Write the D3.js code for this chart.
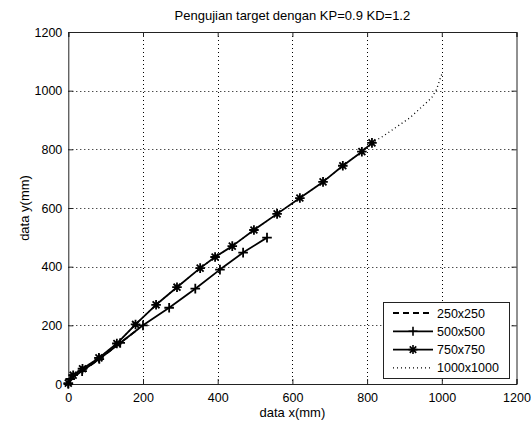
<!DOCTYPE html>
<html><head><meta charset="utf-8">
<script src="https://cdn.jsdelivr.net/npm/d3@7"></script>
<style>
body{margin:0;background:#fff;}
text{font-family:"Liberation Sans",Arial,sans-serif;font-size:13px;fill:#000;}
</style></head>
<body><svg id="c" width="531" height="421"></svg>
<script>
const title = "Pengujian target dengan KP=0.9 KD=1.2";
const xLabel = "data x(mm)";
const yLabel = "data y(mm)";
const xTicks = [0,200,400,600,800,1000,1200];
const yTicks = [0,200,400,600,800,1000,1200];
const seriesNames = ["250x250","500x500","750x750","1000x1000"];

const x250 = [0, 5, 37, 83, 139, 188];
const y250 = [0, 17, 44, 85, 140, 188];

const x500 = [0, 5, 37, 83, 139, 200, 270, 340, 406, 468, 532];
const y500 = [0, 17, 44, 85, 140, 200, 260, 325, 390, 448, 499];

const x750 = [0, 13, 38, 82, 130, 180, 235, 291, 353, 393, 439, 497, 559, 620, 682, 735, 786, 813];
const y750 = [3, 30, 52, 89, 138, 203, 270, 330, 395, 433, 470, 525, 580, 634, 689, 744, 792, 822];

const x1000 = [0, 13, 38, 82, 130, 180, 235, 291, 353, 393, 439, 497, 559, 620, 682, 735, 786, 813, 843, 915, 973, 986, 995, 1000];
const y1000 = [3, 30, 52, 89, 138, 203, 270, 330, 395, 433, 470, 525, 580, 634, 689, 744, 792, 822, 845, 908, 976, 1004, 1039, 1056];

const W = 531, H = 421;
const m = {l:68.3, r:14.5, t:32, b:37};
const svg = d3.select("#c");
const x = d3.scaleLinear().domain([0,1200]).range([m.l, W-m.r]);
const y = d3.scaleLinear().domain([0,1200]).range([H-m.b, m.t]);

// grid
const grid = svg.append("g").attr("stroke","#000").attr("stroke-width",1).attr("stroke-dasharray","1,3");
xTicks.forEach(t=>{ if(t>0 && t<1200) grid.append("line").attr("x1",Math.round(x(t))+0.5).attr("x2",Math.round(x(t))+0.5).attr("y1",y(1200)).attr("y2",y(0)); });
yTicks.forEach(t=>{ if(t>0 && t<1200) grid.append("line").attr("y1",Math.round(y(t))+0.5).attr("y2",Math.round(y(t))+0.5).attr("x1",x(0)).attr("x2",x(1200)); });

// axes via d3
const axB = svg.append("g").attr("transform",`translate(0,${y(0)})`)
  .call(d3.axisBottom(x).tickValues(xTicks).tickSize(-5).tickPadding(9).tickFormat(d3.format("d")));
const axT = svg.append("g").attr("transform",`translate(0,${y(1200)})`)
  .call(d3.axisTop(x).tickValues(xTicks).tickSize(-5).tickFormat(""));
const axL = svg.append("g").attr("transform",`translate(${x(0)},0)`)
  .call(d3.axisLeft(y).tickValues(yTicks).tickSize(-5).tickPadding(6).tickFormat(d3.format("d")));
const axR = svg.append("g").attr("transform",`translate(${x(1200)},0)`)
  .call(d3.axisRight(y).tickValues(yTicks).tickSize(-5).tickFormat(""));
[axB,axT,axL,axR].forEach(a=>{
  a.selectAll(".domain").attr("stroke","#222");
  a.selectAll(".tick line").attr("stroke","#222");
  a.selectAll("text").style("font-family","'Liberation Sans',Arial,sans-serif").style("font-size","12.5px").attr("fill","#000");
});

function pts(xs,ys){ return xs.map((v,i)=>[v,ys[i]]); }
const line = d3.line().x(d=>x(d[0])).y(d=>y(d[1]));

const data = [
  {name:seriesNames[3], p:pts(x1000,y1000), dash:"1,3", w:1.3, mk:null},
  {name:seriesNames[0], p:pts(x250,y250), dash:"6,4", w:1.8, mk:null},
  {name:seriesNames[1], p:pts(x500,y500), dash:null, w:1.8, mk:"plus"},
  {name:seriesNames[2], p:pts(x750,y750), dash:null, w:1.8, mk:"star"}
];

function markerPath(type, s){
  if(type==="plus") return `M${-s},0L${s},0M0,${-s}L0,${s}`;
  const d = s*0.72;
  return `M${-s},0L${s},0M0,${-s}L0,${s}M${-d},${-d}L${d},${d}M${-d},${d}L${d},${-d}`;
}

const plot = svg.append("g");
data.forEach(s=>{
  plot.append("path").attr("d",line(s.p)).attr("fill","none").attr("stroke","#000")
    .attr("stroke-width",s.w).attr("stroke-dasharray",s.dash).attr("stroke-linejoin","round");
  if(s.mk){
    plot.selectAll(null).data(s.p).enter().append("path")
      .attr("transform",d=>`translate(${x(d[0])},${y(d[1])})`)
      .attr("d",markerPath(s.mk,4.8)).attr("stroke","#000").attr("stroke-width",1.8).attr("fill","none");
  }
});

// legend
const lg = svg.append("g");
const lx0 = 383, ly0 = 302, lw = 126, lh = 76;
lg.append("rect").attr("x",lx0+0.5).attr("y",ly0+0.5).attr("width",lw).attr("height",lh)
  .attr("fill","#fff").attr("stroke","#222").attr("stroke-width",1);
const legendItems = [
  {name:seriesNames[0], dash:"6,4", w:1.8, mk:null},
  {name:seriesNames[1], dash:null, w:1.8, mk:"plus"},
  {name:seriesNames[2], dash:null, w:1.8, mk:"star"},
  {name:seriesNames[3], dash:"1,3", w:1.3, mk:null}
];
legendItems.forEach((it,i)=>{
  const yy = ly0 + 11 + i*18.3;
  lg.append("line").attr("x1",lx0+10).attr("x2",lx0+50).attr("y1",yy).attr("y2",yy)
    .attr("stroke","#000").attr("stroke-width",it.w).attr("stroke-dasharray",it.dash);
  if(it.mk) lg.append("path").attr("transform",`translate(${lx0+30},${yy})`)
    .attr("d",markerPath(it.mk,4.5)).attr("stroke","#000").attr("stroke-width",1.6).attr("fill","none");
  lg.append("text").attr("x",lx0+54).attr("y",yy+4.5).style("font-size","12.5px").text(it.name);
});

// labels
svg.append("text").attr("x",(x(0)+x(1200))/2).attr("y",20).attr("text-anchor","middle").text(title);
svg.append("text").attr("x",(x(0)+x(1200))/2).attr("y",417).attr("text-anchor","middle").text(xLabel);
svg.append("text").attr("transform",`translate(29,${(y(0)+y(1200))/2}) rotate(-90)`).attr("text-anchor","middle").text(yLabel);
</script></body></html>
